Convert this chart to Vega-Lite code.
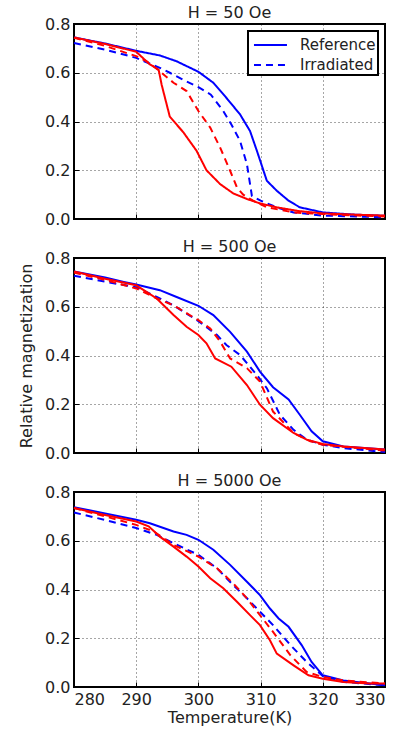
{
"$schema": "https://vega.github.io/schema/vega-lite/v6.json",
"padding": {"left": 17, "top": 4, "right": 0, "bottom": 0},
"background": "#ffffff",
"config": {
  "font": "DejaVu Sans",
  "view": {"stroke": "#000", "strokeWidth": 2},
  "axis": {"grid": true, "gridDash": [1, 3], "gridColor": "#000", "gridOpacity": 0.7, "domain": false, "ticks": true, "tickSize": -5, "tickColor": "#000", "tickWidth": 1, "labelFontSize": 16, "labelColor": "#222", "labelFont": "DejaVu Sans", "titleFont": "DejaVu Sans", "titleFontSize": 16, "titleFontWeight": "normal", "titleColor": "#222", "labelPadding": 9},
  "title": {"fontSize": 16, "fontWeight": "normal", "font": "DejaVu Sans", "color": "#222", "offset": -5}
},
"datasets": {"d": [
{"H":"50","g":"A","s":"Reference","T":280,"M":0.745},{"H":"50","g":"A","s":"Reference","T":285,"M":0.72},{"H":"50","g":"A","s":"Reference","T":290,"M":0.69},{"H":"50","g":"A","s":"Reference","T":293.8,"M":0.671},{"H":"50","g":"A","s":"Reference","T":296.5,"M":0.647},{"H":"50","g":"A","s":"Reference","T":300,"M":0.604},{"H":"50","g":"A","s":"Reference","T":302.4,"M":0.559},{"H":"50","g":"A","s":"Reference","T":304.5,"M":0.497},{"H":"50","g":"A","s":"Reference","T":306.7,"M":0.429},{"H":"50","g":"A","s":"Reference","T":308.3,"M":0.361},{"H":"50","g":"A","s":"Reference","T":309.4,"M":0.28},{"H":"50","g":"A","s":"Reference","T":311,"M":0.157},{"H":"50","g":"A","s":"Reference","T":312.6,"M":0.116},{"H":"50","g":"A","s":"Reference","T":314.5,"M":0.075},{"H":"50","g":"A","s":"Reference","T":316.3,"M":0.048},{"H":"50","g":"A","s":"Reference","T":320,"M":0.027},{"H":"50","g":"A","s":"Reference","T":325,"M":0.018},{"H":"50","g":"A","s":"Reference","T":330,"M":0.013},
{"H":"50","g":"A","s":"Irradiated","T":280,"M":0.722},{"H":"50","g":"A","s":"Irradiated","T":285,"M":0.695},{"H":"50","g":"A","s":"Irradiated","T":290,"M":0.661},{"H":"50","g":"A","s":"Irradiated","T":293.8,"M":0.62},{"H":"50","g":"A","s":"Irradiated","T":295.4,"M":0.6},{"H":"50","g":"A","s":"Irradiated","T":298,"M":0.565},{"H":"50","g":"A","s":"Irradiated","T":300,"M":0.541},{"H":"50","g":"A","s":"Irradiated","T":302,"M":0.51},{"H":"50","g":"A","s":"Irradiated","T":304,"M":0.443},{"H":"50","g":"A","s":"Irradiated","T":305.3,"M":0.388},{"H":"50","g":"A","s":"Irradiated","T":306.7,"M":0.32},{"H":"50","g":"A","s":"Irradiated","T":307.8,"M":0.225},{"H":"50","g":"A","s":"Irradiated","T":308.6,"M":0.095},{"H":"50","g":"A","s":"Irradiated","T":310,"M":0.075},{"H":"50","g":"A","s":"Irradiated","T":312.6,"M":0.048},{"H":"50","g":"A","s":"Irradiated","T":315.3,"M":0.027},{"H":"50","g":"A","s":"Irradiated","T":320,"M":0.014},{"H":"50","g":"A","s":"Irradiated","T":330,"M":0.007},
{"H":"50","g":"B","s":"Reference","T":280,"M":0.745},{"H":"50","g":"B","s":"Reference","T":285,"M":0.718},{"H":"50","g":"B","s":"Reference","T":290,"M":0.686},{"H":"50","g":"B","s":"Reference","T":292.2,"M":0.634},{"H":"50","g":"B","s":"Reference","T":293.6,"M":0.613},{"H":"50","g":"B","s":"Reference","T":294.1,"M":0.55},{"H":"50","g":"B","s":"Reference","T":295.4,"M":0.42},{"H":"50","g":"B","s":"Reference","T":297.6,"M":0.355},{"H":"50","g":"B","s":"Reference","T":299.7,"M":0.28},{"H":"50","g":"B","s":"Reference","T":301.3,"M":0.2},{"H":"50","g":"B","s":"Reference","T":303.5,"M":0.143},{"H":"50","g":"B","s":"Reference","T":305.6,"M":0.105},{"H":"50","g":"B","s":"Reference","T":307.8,"M":0.082},{"H":"50","g":"B","s":"Reference","T":309.9,"M":0.064},{"H":"50","g":"B","s":"Reference","T":312.6,"M":0.048},{"H":"50","g":"B","s":"Reference","T":316,"M":0.033},{"H":"50","g":"B","s":"Reference","T":320,"M":0.023},{"H":"50","g":"B","s":"Reference","T":325,"M":0.018},{"H":"50","g":"B","s":"Reference","T":330,"M":0.014},
{"H":"50","g":"B","s":"Irradiated","T":280,"M":0.743},{"H":"50","g":"B","s":"Irradiated","T":285,"M":0.71},{"H":"50","g":"B","s":"Irradiated","T":290,"M":0.668},{"H":"50","g":"B","s":"Irradiated","T":291.7,"M":0.647},{"H":"50","g":"B","s":"Irradiated","T":293.8,"M":0.606},{"H":"50","g":"B","s":"Irradiated","T":296,"M":0.559},{"H":"50","g":"B","s":"Irradiated","T":298.1,"M":0.525},{"H":"50","g":"B","s":"Irradiated","T":300,"M":0.443},{"H":"50","g":"B","s":"Irradiated","T":301.9,"M":0.375},{"H":"50","g":"B","s":"Irradiated","T":303.5,"M":0.293},{"H":"50","g":"B","s":"Irradiated","T":305.1,"M":0.198},{"H":"50","g":"B","s":"Irradiated","T":306.2,"M":0.129},{"H":"50","g":"B","s":"Irradiated","T":307.2,"M":0.1},{"H":"50","g":"B","s":"Irradiated","T":308.8,"M":0.075},{"H":"50","g":"B","s":"Irradiated","T":311,"M":0.048},{"H":"50","g":"B","s":"Irradiated","T":315.3,"M":0.027},{"H":"50","g":"B","s":"Irradiated","T":320,"M":0.02},{"H":"50","g":"B","s":"Irradiated","T":330,"M":0.01},
{"H":"500","g":"A","s":"Reference","T":280,"M":0.745},{"H":"500","g":"A","s":"Reference","T":285,"M":0.72},{"H":"500","g":"A","s":"Reference","T":288,"M":0.702},{"H":"500","g":"A","s":"Reference","T":290,"M":0.691},{"H":"500","g":"A","s":"Reference","T":293.8,"M":0.668},{"H":"500","g":"A","s":"Reference","T":296.5,"M":0.64},{"H":"500","g":"A","s":"Reference","T":300,"M":0.604},{"H":"500","g":"A","s":"Reference","T":302.4,"M":0.566},{"H":"500","g":"A","s":"Reference","T":305.1,"M":0.497},{"H":"500","g":"A","s":"Reference","T":307.8,"M":0.416},{"H":"500","g":"A","s":"Reference","T":309.9,"M":0.334},{"H":"500","g":"A","s":"Reference","T":312,"M":0.27},{"H":"500","g":"A","s":"Reference","T":314.5,"M":0.22},{"H":"500","g":"A","s":"Reference","T":316.3,"M":0.157},{"H":"500","g":"A","s":"Reference","T":318.2,"M":0.089},{"H":"500","g":"A","s":"Reference","T":320,"M":0.048},{"H":"500","g":"A","s":"Reference","T":323.3,"M":0.027},{"H":"500","g":"A","s":"Reference","T":330,"M":0.014},
{"H":"500","g":"A","s":"Irradiated","T":280,"M":0.727},{"H":"500","g":"A","s":"Irradiated","T":285,"M":0.703},{"H":"500","g":"A","s":"Irradiated","T":290,"M":0.68},{"H":"500","g":"A","s":"Irradiated","T":293.3,"M":0.64},{"H":"500","g":"A","s":"Irradiated","T":296,"M":0.606},{"H":"500","g":"A","s":"Irradiated","T":298.1,"M":0.572},{"H":"500","g":"A","s":"Irradiated","T":300,"M":0.541},{"H":"500","g":"A","s":"Irradiated","T":303,"M":0.484},{"H":"500","g":"A","s":"Irradiated","T":304.5,"M":0.443},{"H":"500","g":"A","s":"Irradiated","T":306.7,"M":0.402},{"H":"500","g":"A","s":"Irradiated","T":309.4,"M":0.32},{"H":"500","g":"A","s":"Irradiated","T":311,"M":0.266},{"H":"500","g":"A","s":"Irradiated","T":313.1,"M":0.157},{"H":"500","g":"A","s":"Irradiated","T":315.3,"M":0.095},{"H":"500","g":"A","s":"Irradiated","T":317.4,"M":0.055},{"H":"500","g":"A","s":"Irradiated","T":320,"M":0.034},{"H":"500","g":"A","s":"Irradiated","T":323.3,"M":0.02},{"H":"500","g":"A","s":"Irradiated","T":330,"M":0.004},
{"H":"500","g":"B","s":"Reference","T":280,"M":0.745},{"H":"500","g":"B","s":"Reference","T":285,"M":0.715},{"H":"500","g":"B","s":"Reference","T":290,"M":0.688},{"H":"500","g":"B","s":"Reference","T":293.3,"M":0.634},{"H":"500","g":"B","s":"Reference","T":296,"M":0.566},{"H":"500","g":"B","s":"Reference","T":298.1,"M":0.518},{"H":"500","g":"B","s":"Reference","T":300,"M":0.484},{"H":"500","g":"B","s":"Reference","T":301.3,"M":0.45},{"H":"500","g":"B","s":"Reference","T":302.7,"M":0.388},{"H":"500","g":"B","s":"Reference","T":305.3,"M":0.354},{"H":"500","g":"B","s":"Reference","T":307.8,"M":0.279},{"H":"500","g":"B","s":"Reference","T":309.9,"M":0.198},{"H":"500","g":"B","s":"Reference","T":312,"M":0.143},{"H":"500","g":"B","s":"Reference","T":315.3,"M":0.082},{"H":"500","g":"B","s":"Reference","T":317.4,"M":0.055},{"H":"500","g":"B","s":"Reference","T":320,"M":0.037},{"H":"500","g":"B","s":"Reference","T":323.3,"M":0.027},{"H":"500","g":"B","s":"Reference","T":330,"M":0.014},
{"H":"500","g":"B","s":"Irradiated","T":280,"M":0.74},{"H":"500","g":"B","s":"Irradiated","T":285,"M":0.71},{"H":"500","g":"B","s":"Irradiated","T":290,"M":0.675},{"H":"500","g":"B","s":"Irradiated","T":293.3,"M":0.634},{"H":"500","g":"B","s":"Irradiated","T":296,"M":0.606},{"H":"500","g":"B","s":"Irradiated","T":298.6,"M":0.566},{"H":"500","g":"B","s":"Irradiated","T":300,"M":0.545},{"H":"500","g":"B","s":"Irradiated","T":301.9,"M":0.511},{"H":"500","g":"B","s":"Irradiated","T":303.5,"M":0.457},{"H":"500","g":"B","s":"Irradiated","T":305.1,"M":0.388},{"H":"500","g":"B","s":"Irradiated","T":307.8,"M":0.348},{"H":"500","g":"B","s":"Irradiated","T":309.9,"M":0.293},{"H":"500","g":"B","s":"Irradiated","T":312,"M":0.17},{"H":"500","g":"B","s":"Irradiated","T":315.3,"M":0.082},{"H":"500","g":"B","s":"Irradiated","T":318,"M":0.048},{"H":"500","g":"B","s":"Irradiated","T":320,"M":0.034},{"H":"500","g":"B","s":"Irradiated","T":330,"M":0.01},
{"H":"5000","g":"A","s":"Reference","T":280,"M":0.738},{"H":"5000","g":"A","s":"Reference","T":285,"M":0.712},{"H":"5000","g":"A","s":"Reference","T":290,"M":0.686},{"H":"5000","g":"A","s":"Reference","T":292.2,"M":0.672},{"H":"5000","g":"A","s":"Reference","T":296,"M":0.638},{"H":"5000","g":"A","s":"Reference","T":298.1,"M":0.624},{"H":"5000","g":"A","s":"Reference","T":300,"M":0.604},{"H":"5000","g":"A","s":"Reference","T":302.4,"M":0.563},{"H":"5000","g":"A","s":"Reference","T":305.1,"M":0.501},{"H":"5000","g":"A","s":"Reference","T":307.8,"M":0.432},{"H":"5000","g":"A","s":"Reference","T":309.9,"M":0.377},{"H":"5000","g":"A","s":"Reference","T":311.5,"M":0.322},{"H":"5000","g":"A","s":"Reference","T":312.9,"M":0.281},{"H":"5000","g":"A","s":"Reference","T":314.5,"M":0.247},{"H":"5000","g":"A","s":"Reference","T":316.6,"M":0.172},{"H":"5000","g":"A","s":"Reference","T":318.2,"M":0.103},{"H":"5000","g":"A","s":"Reference","T":320,"M":0.048},{"H":"5000","g":"A","s":"Reference","T":323.3,"M":0.027},{"H":"5000","g":"A","s":"Reference","T":330,"M":0.007},
{"H":"5000","g":"A","s":"Irradiated","T":280,"M":0.716},{"H":"5000","g":"A","s":"Irradiated","T":285,"M":0.685},{"H":"5000","g":"A","s":"Irradiated","T":290,"M":0.652},{"H":"5000","g":"A","s":"Irradiated","T":293.3,"M":0.624},{"H":"5000","g":"A","s":"Irradiated","T":296,"M":0.59},{"H":"5000","g":"A","s":"Irradiated","T":300,"M":0.542},{"H":"5000","g":"A","s":"Irradiated","T":303,"M":0.487},{"H":"5000","g":"A","s":"Irradiated","T":305.6,"M":0.418},{"H":"5000","g":"A","s":"Irradiated","T":307.8,"M":0.364},{"H":"5000","g":"A","s":"Irradiated","T":309.9,"M":0.309},{"H":"5000","g":"A","s":"Irradiated","T":312,"M":0.254},{"H":"5000","g":"A","s":"Irradiated","T":314.8,"M":0.172},{"H":"5000","g":"A","s":"Irradiated","T":317.4,"M":0.103},{"H":"5000","g":"A","s":"Irradiated","T":320,"M":0.045},{"H":"5000","g":"A","s":"Irradiated","T":323.3,"M":0.021},{"H":"5000","g":"A","s":"Irradiated","T":330,"M":0.007},
{"H":"5000","g":"B","s":"Reference","T":280,"M":0.734},{"H":"5000","g":"B","s":"Reference","T":285,"M":0.706},{"H":"5000","g":"B","s":"Reference","T":290,"M":0.679},{"H":"5000","g":"B","s":"Reference","T":292,"M":0.659},{"H":"5000","g":"B","s":"Reference","T":293.8,"M":0.617},{"H":"5000","g":"B","s":"Reference","T":296,"M":0.576},{"H":"5000","g":"B","s":"Reference","T":298.1,"M":0.535},{"H":"5000","g":"B","s":"Reference","T":300,"M":0.494},{"H":"5000","g":"B","s":"Reference","T":301.9,"M":0.446},{"H":"5000","g":"B","s":"Reference","T":304,"M":0.405},{"H":"5000","g":"B","s":"Reference","T":306.2,"M":0.35},{"H":"5000","g":"B","s":"Reference","T":308.3,"M":0.295},{"H":"5000","g":"B","s":"Reference","T":309.9,"M":0.254},{"H":"5000","g":"B","s":"Reference","T":311.5,"M":0.192},{"H":"5000","g":"B","s":"Reference","T":312.6,"M":0.137},{"H":"5000","g":"B","s":"Reference","T":315.3,"M":0.089},{"H":"5000","g":"B","s":"Reference","T":317.7,"M":0.048},{"H":"5000","g":"B","s":"Reference","T":320,"M":0.034},{"H":"5000","g":"B","s":"Reference","T":323.3,"M":0.021},{"H":"5000","g":"B","s":"Reference","T":327.5,"M":0.014},{"H":"5000","g":"B","s":"Reference","T":330,"M":0.014},
{"H":"5000","g":"B","s":"Irradiated","T":280,"M":0.734},{"H":"5000","g":"B","s":"Irradiated","T":285,"M":0.7},{"H":"5000","g":"B","s":"Irradiated","T":290,"M":0.665},{"H":"5000","g":"B","s":"Irradiated","T":292.8,"M":0.638},{"H":"5000","g":"B","s":"Irradiated","T":296,"M":0.583},{"H":"5000","g":"B","s":"Irradiated","T":300,"M":0.535},{"H":"5000","g":"B","s":"Irradiated","T":303,"M":0.487},{"H":"5000","g":"B","s":"Irradiated","T":305.6,"M":0.425},{"H":"5000","g":"B","s":"Irradiated","T":307.8,"M":0.364},{"H":"5000","g":"B","s":"Irradiated","T":309.9,"M":0.295},{"H":"5000","g":"B","s":"Irradiated","T":312,"M":0.226},{"H":"5000","g":"B","s":"Irradiated","T":314.8,"M":0.13},{"H":"5000","g":"B","s":"Irradiated","T":317.4,"M":0.062},{"H":"5000","g":"B","s":"Irradiated","T":320,"M":0.041},{"H":"5000","g":"B","s":"Irradiated","T":323.3,"M":0.027},{"H":"5000","g":"B","s":"Irradiated","T":330,"M":0.014}
]},
"spacing": 10,
"vconcat": [
{
  "width": 311, "height": 195,
  "title": "H = 50 Oe",
  "data": {"name": "d"},
  "transform": [{"filter": "datum.H == '50'"}],
  "encoding": {
    "x": {"field": "T", "type": "quantitative", "scale": {"domain": [280, 330], "nice": false, "zero": false}, "axis": {"values": [280, 290, 300, 310, 320, 330], "labels": false, "title": null}},
    "y": {"field": "M", "type": "quantitative", "scale": {"domain": [0, 0.8], "nice": false}, "axis": {"values": [0, 0.2, 0.4, 0.6, 0.8], "format": ".1f", "title": null}},
    "strokeDash": {"field": "s", "type": "nominal", "scale": {"domain": ["Reference", "Irradiated"], "range": [[1, 0], [7, 5]]},
      "legend": {"orient": "top-right", "offset": 7, "title": null, "strokeColor": "#000", "fillColor": "#fff", "padding": 2, "cornerRadius": 0, "symbolType": "M-0.73,0H2.27", "symbolSize": 484, "symbolStrokeWidth": 2, "symbolStrokeColor": "#0000ff", "symbolFillColor": "transparent", "labelFontSize": 15, "labelOffset": 26, "rowPadding": 0, "labelFont": "DejaVu Sans", "labelColor": "#222",
        "encode": {"legend": {"update": {"strokeWidth": {"value": 2}}}}}}
  },
  "layer": [
    {"transform": [{"filter": "datum.g == 'A'"}], "mark": {"type": "line", "color": "#0000ff", "strokeWidth": 2}},
    {"transform": [{"filter": "datum.g == 'B'"}], "mark": {"type": "line", "color": "#ff0000", "strokeWidth": 2}}
  ]
},
{
  "width": 311, "height": 195,
  "title": "H = 500 Oe",
  "data": {"name": "d"},
  "transform": [{"filter": "datum.H == '500'"}],
  "encoding": {
    "x": {"field": "T", "type": "quantitative", "scale": {"domain": [280, 330], "nice": false, "zero": false}, "axis": {"values": [280, 290, 300, 310, 320, 330], "labels": false, "title": null}},
    "y": {"field": "M", "type": "quantitative", "scale": {"domain": [0, 0.8], "nice": false}, "axis": {"values": [0, 0.2, 0.4, 0.6, 0.8], "format": ".1f", "title": "Relative magnetization", "titlePadding": 10}},
    "detail": {"field": "s", "type": "nominal"}
  },
  "layer": [
    {"transform": [{"filter": "datum.g == 'A' && datum.s == 'Reference'"}], "mark": {"type": "line", "color": "#0000ff", "strokeWidth": 2}},
    {"transform": [{"filter": "datum.g == 'A' && datum.s == 'Irradiated'"}], "mark": {"type": "line", "color": "#0000ff", "strokeWidth": 2, "strokeDash": [7, 5]}},
    {"transform": [{"filter": "datum.g == 'B' && datum.s == 'Reference'"}], "mark": {"type": "line", "color": "#ff0000", "strokeWidth": 2}},
    {"transform": [{"filter": "datum.g == 'B' && datum.s == 'Irradiated'"}], "mark": {"type": "line", "color": "#ff0000", "strokeWidth": 2, "strokeDash": [7, 5]}}
  ]
},
{
  "width": 311, "height": 195,
  "title": "H = 5000 Oe",
  "data": {"name": "d"},
  "transform": [{"filter": "datum.H == '5000'"}],
  "encoding": {
    "x": {"field": "T", "type": "quantitative", "scale": {"domain": [280, 330], "nice": false, "zero": false}, "axis": {"values": [280, 290, 300, 310, 320, 330], "title": "Temperature(K)", "titlePadding": 2}},
    "y": {"field": "M", "type": "quantitative", "scale": {"domain": [0, 0.8], "nice": false}, "axis": {"values": [0, 0.2, 0.4, 0.6, 0.8], "format": ".1f", "title": null}},
    "detail": {"field": "s", "type": "nominal"}
  },
  "layer": [
    {"transform": [{"filter": "datum.g == 'A' && datum.s == 'Reference'"}], "mark": {"type": "line", "color": "#0000ff", "strokeWidth": 2}},
    {"transform": [{"filter": "datum.g == 'A' && datum.s == 'Irradiated'"}], "mark": {"type": "line", "color": "#0000ff", "strokeWidth": 2, "strokeDash": [7, 5]}},
    {"transform": [{"filter": "datum.g == 'B' && datum.s == 'Reference'"}], "mark": {"type": "line", "color": "#ff0000", "strokeWidth": 2}},
    {"transform": [{"filter": "datum.g == 'B' && datum.s == 'Irradiated'"}], "mark": {"type": "line", "color": "#ff0000", "strokeWidth": 2, "strokeDash": [7, 5]}}
  ]
}
]
}
